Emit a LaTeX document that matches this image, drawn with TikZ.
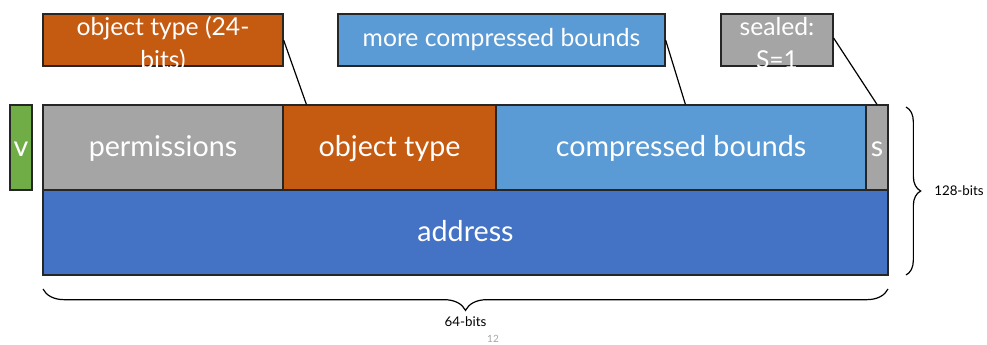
\documentclass[tikz,border=0pt]{standalone}
\usepackage{fontspec}
\setmainfont{Lato}
\usetikzlibrary{calc,decorations.pathreplacing}
\definecolor{vgreen}{HTML}{70AD47}
\definecolor{fgray}{HTML}{A5A5A5}
\definecolor{otorange}{HTML}{C55A11}
\definecolor{cblue}{HTML}{5B9BD5}
\definecolor{adblue}{HTML}{4472C4}
\definecolor{edge}{HTML}{262626}
\tikzset{
  field/.style={draw=edge, line width=0.9pt, text=white, inner sep=0pt,
    text height=15pt, text depth=1.5pt,
    minimum height=63.75pt, font=\fontsize{21.5}{26}\selectfont},
  note/.style={draw=edge, line width=0.9pt, text=white, inner sep=0pt,
    minimum height=39pt, font=\fontsize{18.5}{22}\selectfont},
  bracket/.style={decorate, line width=0.9pt},
}
\begin{document}
\begin{tikzpicture}[x=0.75pt,y=0.75pt,yscale=-1,xscale=1]
    \useasboundingbox (0,0) rectangle (987,344);
    % fields of the capability
    \node (v) [field, fill=vgreen, minimum width=16.5pt] at (21,147.5) {v};
    \node (perm) [field, fill=fgray, minimum width=180pt] at (163,147.5) {permissions};
    \node (ot) [field, fill=otorange, minimum width=159.75pt] at (389.5,147.5) {object type};
    \node (cb) [field, fill=cblue, minimum width=277.5pt] at (681,147.5) {compressed bounds};
    \node (s) [field, fill=fgray, minimum width=16.5pt] at (877,147.5) {s};
    \node (addr) [field, fill=adblue, minimum width=633.75pt] at (465.5,232.5) {address};
    % callouts
    \node (otnote) [note, fill=otorange, minimum width=180pt] at (163,40)
      {\smash{\raisebox{-9pt}{\begin{tabular}{@{}c@{}}object type (24-\\[2.5pt]bits)\end{tabular}}}};
    \node (cbnote) [note, fill=cblue, minimum width=245.25pt] at (501.5,40) {more compressed bounds};
    \node (snote) [note, fill=fgray, minimum width=84pt] at (777,40)
      {\smash{\raisebox{-9pt}{\begin{tabular}{@{}c@{}}sealed:\\[2.5pt]S=1\end{tabular}}}};
    \draw [line width=0.9pt] (otnote.east) -- ($(ot.north west)+(24,0)$);
    \draw [line width=0.9pt] (cbnote.east) -- ($(cb.north west)+(190,0)$);
    \draw [line width=0.9pt] ($(snote.east)+(0,-2)$) -- (s.north);
    % sizes
    \coordinate (rtop) at (906,107);
    \coordinate (rbot) at (906,275);
    \draw [bracket, decoration={brace, amplitude=11pt}] (rtop) -- (rbot);
    \node (rlabel) [anchor=west, inner sep=0pt, font=\fontsize{10}{12}\selectfont] at (934,191) {128-bits};
    \coordinate (bright) at (888,289);
    \coordinate (bleft) at (43,289);
    \draw [bracket, decoration={brace, amplitude=16pt}] (bright) -- (bleft);
    \node (blabel) [inner sep=0pt, font=\fontsize{10}{12}\selectfont] at (465.5,322) {64-bits};
    \node (page) [inner sep=0pt, text=fgray, font=\fontsize{7.5}{9}\selectfont] at (493,339) {12};
\end{tikzpicture}
\end{document}
